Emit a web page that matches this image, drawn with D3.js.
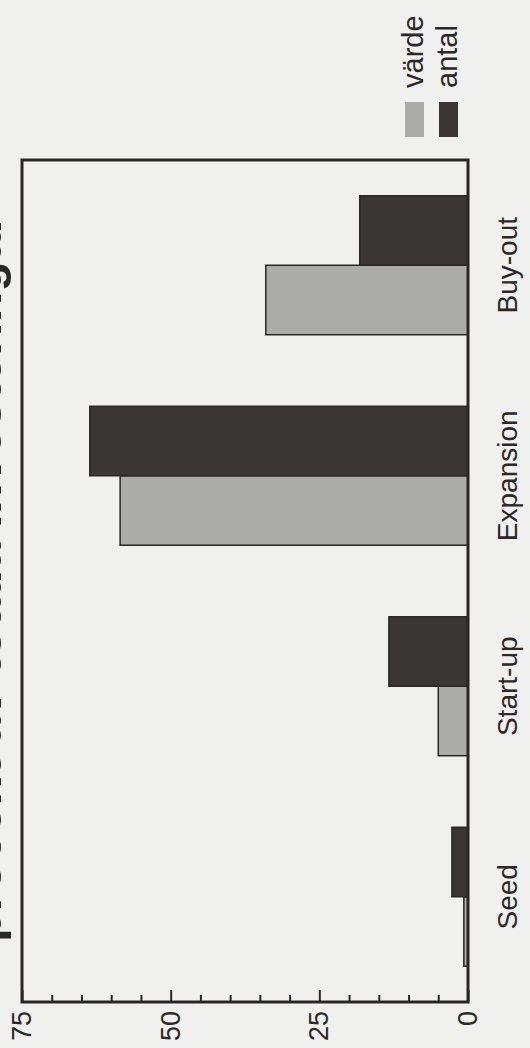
<!DOCTYPE html>
<html>
<head>
<meta charset="utf-8">
<script src="https://cdn.jsdelivr.net/npm/d3@7"></script>
<style>
  body { margin: 0; background: #f0f0ee; }
  svg { display: block; font-family: "Liberation Sans", Arial, sans-serif; }
</style>
</head>
<body>
<div id="dataviz"></div>
<script>
// data (percent)
var categories = ["Seed", "Start-up", "Expansion", "Buy-out"];
var seriesNames = ["värde", "antal"];
var vardeValues = [0.7, 5.0, 58.5, 34];
var antalValues = [2.7, 13.3, 63.6, 18.2];
var majorTicks = [0, 25, 50, 75];
var minorTicks = [5, 10, 15, 20, 30, 35, 40, 45, 55, 60, 65, 70];
var titleText = "procent av totala investeringar";

var colors = {"värde": "#acacaa", "antal": "#3a3636"};

var W = 530, H = 1048;

var svg = d3.select("#dataviz")
  .append("svg")
    .attr("width", W)
    .attr("height", H);

svg.append("rect")
  .attr("width", W)
  .attr("height", H)
  .attr("fill", "#f0f0ee");

// the scanned page is turned on its side: draw the chart upright, then rotate
var g = svg.append("g")
  .attr("transform", "translate(0," + H + ") rotate(-90)");

var plot = {left: 46, right: 888, top: 22, bottom: 468};

var x0 = d3.scaleBand()
  .domain(categories)
  .range([plot.left, plot.right])
  .paddingInner(0.34)
  .paddingOuter(0.17);

var x1 = d3.scaleBand()
  .domain(seriesNames)
  .range([0, x0.bandwidth()]);

var y = d3.scaleLinear()
  .domain([0, 75])
  .range([plot.bottom, plot.top]);

// title, mostly cut off at the page edge as in the scan
g.append("text")
  .attr("x", 106)
  .attr("y", 1)
  .attr("font-size", 50)
  .attr("font-weight", "bold")
  .attr("fill", "#2a2727")
  .text(titleText);

// bars
var rows = categories.map(function(c, i) {
  return {cat: c, values: [{key: "värde", v: vardeValues[i]}, {key: "antal", v: antalValues[i]}]};
});

g.selectAll(".group")
  .data(rows)
  .enter()
  .append("g")
    .attr("class", "group")
    .attr("transform", function(d) { return "translate(" + x0(d.cat) + ",0)"; })
  .selectAll("rect")
  .data(function(d) { return d.values; })
  .enter()
  .append("rect")
    .attr("x", function(d) { return x1(d.key); })
    .attr("y", function(d) { return y(d.v); })
    .attr("width", x1.bandwidth())
    .attr("height", function(d) { return y(0) - y(d.v); })
    .attr("fill", function(d) { return colors[d.key]; })
    .attr("stroke", "#2a2626")
    .attr("stroke-width", 1.5);

// minor ticks
g.append("g")
  .attr("transform", "translate(" + plot.left + ",0)")
  .call(d3.axisLeft(y).tickValues(minorTicks).tickSize(-7).tickFormat(""))
  .call(function(a) { a.select(".domain").remove(); })
  .selectAll("line")
    .attr("stroke", "#2a2626")
    .attr("stroke-width", 2);

// major ticks with labels
var yAxis = g.append("g")
  .attr("transform", "translate(" + plot.left + ",0)")
  .call(d3.axisLeft(y).tickValues(majorTicks).tickSize(-12).tickPadding(9));
yAxis.select(".domain").remove();
yAxis.selectAll("line")
  .attr("stroke", "#2a2626")
  .attr("stroke-width", 2);
yAxis.selectAll("text")
  .attr("font-size", 27)
  .attr("font-family", "Liberation Sans, Arial, sans-serif")
  .attr("fill", "#2b2828");

// frame
g.append("rect")
  .attr("x", plot.left)
  .attr("y", plot.top)
  .attr("width", plot.right - plot.left)
  .attr("height", plot.bottom - plot.top)
  .attr("fill", "none")
  .attr("stroke", "#2a2626")
  .attr("stroke-width", 3);

// category labels
g.selectAll(".cat")
  .data(categories)
  .enter()
  .append("text")
    .attr("class", "cat")
    .attr("x", function(d) { return x0(d) + x0.bandwidth() / 2; })
    .attr("y", plot.bottom + 49)
    .attr("text-anchor", "middle")
    .attr("font-size", 28)
    .attr("fill", "#2b2828")
    .text(function(d) { return d; });

// legend
var legend = g.selectAll(".legend")
  .data(seriesNames)
  .enter()
  .append("g")
    .attr("class", "legend")
    .attr("transform", function(d, i) { return "translate(911," + (405 + i * 34) + ")"; });

legend.append("rect")
  .attr("width", 35)
  .attr("height", 19)
  .attr("fill", function(d) { return colors[d]; });

legend.append("text")
  .attr("x", 49)
  .attr("y", 18)
  .attr("font-size", 29)
  .attr("fill", "#2b2828")
  .text(function(d) { return d; });
</script>
</body>
</html>
